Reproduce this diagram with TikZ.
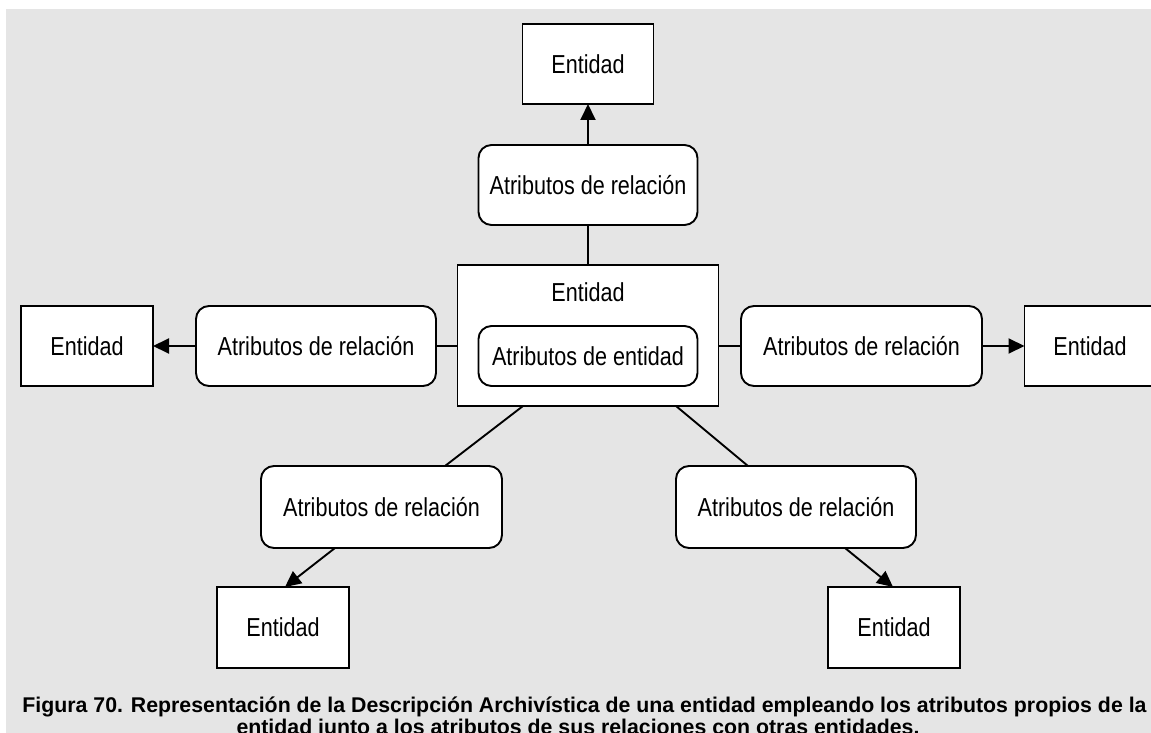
\documentclass[tikz,border=0pt]{standalone}
\usepackage{fontspec}
\setmainfont{Liberation Sans}[FakeStretch=0.83]
\newfontfamily\capfont{Liberation Sans}
\usetikzlibrary{arrows.meta}
\tikzset{
  ent/.style={draw=black, fill=white, line width=1.9pt, inner sep=0pt, outer sep=0pt,
    minimum width=131pt, minimum height=80pt, font=\fontsize{26}{30}\selectfont},
  attr/.style={draw=black, fill=white, line width=1.9pt, rounded corners=13pt, inner sep=0pt, outer sep=0pt,
    minimum width=240pt, minimum height=80pt, font=\fontsize{26}{30}\selectfont},
  conn/.style={draw=black, line width=1.9pt},
  arr/.style={conn, -{Triangle[length=16pt,width=15pt]}},
  lbl/.style={inner sep=0pt, font=\fontsize{26}{30}\selectfont},
  captxt/.style={inner sep=0pt, anchor=base, font=\capfont\bfseries\fontsize{21.3}{24}\selectfont}
}
\begin{document}
\begin{tikzpicture}[x=1pt, y=-1pt]
\useasboundingbox (0,0) rectangle (1151,733);
\fill[white] (0,0) rectangle (1151,733);
\fill[black!10] (6,9) rectangle (1151,733);

\node[ent] (topE) at (588,64) {Entidad};
\node[attr, minimum width=219pt] (topA) at (588,185) {Atributos de relaci\'on};

\node[draw=black, fill=white, line width=1.9pt, inner sep=0pt, outer sep=0pt,
  minimum width=261pt, minimum height=141pt] (cen) at (588,335.5) {};
\node[lbl] (cenL) at (588,292) {Entidad};
\node[attr, minimum width=219pt, minimum height=60pt] (cenA) at (588,356) {Atributos de entidad};

\node[ent, minimum width=132pt] (leftE) at (87,346) {Entidad};
\node[attr] (leftA) at (316,346) {Atributos de relaci\'on};
\node[attr, minimum width=241pt] (rightA) at (861.5,346) {Atributos de relaci\'on};
\node[ent] (rightE) at (1090,346) {Entidad};

\node[attr, minimum width=241pt, minimum height=82pt] (blA) at (381.5,507) {Atributos de relaci\'on};
\node[ent, minimum width=132pt, minimum height=81pt] (blE) at (283,627.5) {Entidad};
\node[attr, minimum height=82pt] (brA) at (796,507) {Atributos de relaci\'on};
\node[ent, minimum width=132pt, minimum height=81pt] (brE) at (894,627.5) {Entidad};

\draw[arr] (topA.north) -- (topE.south);
\draw[conn] (cen.north) -- (topA.south);
\draw[conn] (leftA.east -| cen.west) -- (leftA.east);
\draw[arr] (leftA.west) -- (leftE.east);
\draw[conn] (rightA.west -| cen.east) -- (rightA.west);
\draw[arr] (rightA.east) -- (rightE.west);
\draw[conn] ([xshift=-65pt]cen.south) -- ([xshift=63.5pt]blA.north);
\draw[conn] ([xshift=88pt]cen.south) -- ([xshift=-48pt]brA.north);
\draw[arr] ([xshift=-46.5pt]blA.south) -- ([xshift=2pt]blE.north);
\draw[arr] ([xshift=49pt]brA.south) -- ([xshift=-1pt]brE.north);

\node[captxt] (cap1) at (584.5,712) {Figura 70. Representaci\'on de la Descripci\'on Archiv\'istica de una entidad empleando los atributos propios de la};
\node[captxt] (cap2) at (578,734) {entidad junto a los atributos de sus relaciones con otras entidades.};
\end{tikzpicture}
\end{document}
